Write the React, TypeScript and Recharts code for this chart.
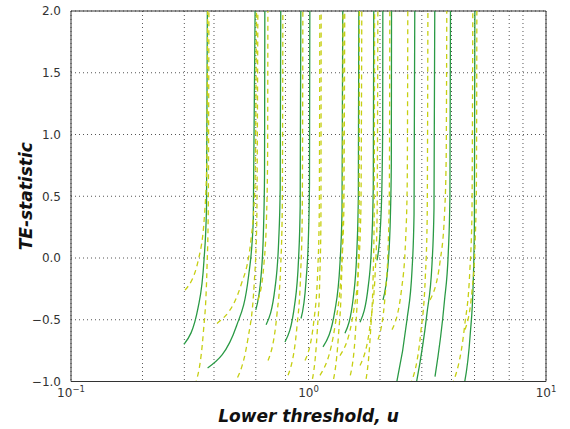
import { LineChart, Line, XAxis, YAxis, CartesianGrid, ReferenceLine, Label } from 'recharts';

// TE-statistic vs lower threshold u.
// Each run is one branch of the curve: starts low, climbs to the asymptote.
const greenRuns: [number, number][][] = [
  [[0.299, -0.70], [0.343, -0.40], [0.363, -0.02], [0.372, 0.40], [0.376, 2.5]],
  [[0.376, -0.89], [0.4975, -0.55], [0.559, -0.15], [0.5855, 0.30], [0.599, 2.5]],
  [[0.600, -0.42], [0.633, -0.12], [0.647, 0.26], [0.653, 0.68], [0.656, 2.8]],
  [[0.663, -0.54], [0.723, -0.24], [0.749, 0.14], [0.760, 0.56], [0.766, 2.7]],
  [[0.796, -0.68], [0.874, -0.38], [0.9085, 0.0], [0.9226, 0.42], [0.930, 2.5]],
  [[0.930, -0.49], [0.976, -0.19], [1.0, 0.19], [1.0097, 0.61], [1.0146, 2.7]],
  [[1.151, -0.72], [1.293, -0.42], [1.357, -0.04], [1.384, 0.38], [1.397, 2.5]],
  [[1.424, -0.61], [1.546, -0.31], [1.599, 0.07], [1.621, 0.49], [1.632, 2.6]],
  [[1.648, -0.52], [1.787, -0.22], [1.849, 0.16], [1.874, 0.58], [1.887, 2.7]],
  [[1.943, -0.02], [2.012, 0.28], [2.041, 0.66], [2.053, 1.08], [2.059, 3.2]],
  [[2.059, -0.34], [2.165, -0.04], [2.212, 0.34], [2.232, 0.76], [2.240, 2.9]],
  [[2.313, -1.07], [2.598, -0.50], [2.728, -0.10], [2.782, 0.35], [2.808, 2.5]],
  [[2.808, -1.07], [3.153, -0.45], [3.311, -0.05], [3.376, 0.40], [3.409, 2.5]],
  [[3.409, -0.96], [3.735, -0.35], [3.879, 0.05], [3.940, 0.50], [3.969, 2.6]],
  [[4.472, -1.07], [4.796, -0.62], [4.938, -0.20], [4.995, 0.30], [5.024, 2.5]],
];

const yellowRuns: [number, number][][] = [
  [[0.302, -0.26], [0.3452, 0.0], [0.3649, 0.35], [0.3733, 0.80], [0.3774, 3.0]],
  [[0.3327, -1.03], [0.3609, -0.60], [0.3735, -0.10], [0.3785, 0.40], [0.3812, 2.5]],
  [[0.4118, -0.53], [0.5196, -0.22], [0.5727, 0.15], [0.5953, 0.60], [0.6072, 2.8]],
  [[0.481, -1.03], [0.5563, -0.65], [0.591, -0.20], [0.6057, 0.30], [0.6131, 2.5]],
  [[0.6131, -0.34], [0.6497, -0.04], [0.6658, 0.34], [0.6723, 0.76], [0.6755, 2.9]],
  [[0.6755, -0.83], [0.737, -0.45], [0.7643, -0.05], [0.7754, 0.40], [0.781, 2.6]],
  [[0.820, -0.95], [0.8947, -0.55], [0.9278, -0.10], [0.9412, 0.35], [0.948, 2.6]],
  [[0.9667, -0.83], [1.0548, -0.50], [1.0937, -0.10], [1.1098, 0.35], [1.1178, 2.6]],
  [[1.02, -1.05], [1.088, -0.60], [1.116, -0.15], [1.128, 0.30], [1.131, 2.5]],
  [[1.1178, -0.95], [1.293, -0.55], [1.374, -0.10], [1.4077, 0.35], [1.424, 2.6]],
  [[1.25, -1.05], [1.338, -0.62], [1.376, -0.20], [1.392, 0.25], [1.40, 2.5]],
  [[1.357, -0.79], [1.543, -0.45], [1.627, -0.05], [1.662, 0.40], [1.680, 2.6]],
  [[1.50, -0.95], [1.582, -0.55], [1.618, -0.10], [1.633, 0.35], [1.64, 2.6]],
  [[1.648, -0.87], [1.829, -0.50], [1.911, -0.10], [1.945, 0.35], [1.962, 2.6]],
  [[1.72, -1.05], [1.824, -0.60], [1.871, -0.15], [1.889, 0.30], [1.90, 2.5]],
  [[1.962, -0.66], [2.103, -0.30], [2.165, 0.10], [2.190, 0.55], [2.203, 2.7]],
  [[2.247, -0.58], [2.466, -0.25], [2.564, 0.15], [2.604, 0.60], [2.624, 2.8]],
  [[2.676, -1.03], [2.971, -0.60], [3.104, -0.15], [3.159, 0.30], [3.187, 2.5]],
  [[3.248, -0.34], [3.586, -0.02], [3.737, 0.35], [3.799, 0.80], [3.831, 2.9]],
  [[4.019, -1.03], [4.543, -0.55], [4.779, -0.10], [4.877, 0.35], [4.927, 2.6]],
  [[4.560, -0.58], [4.890, -0.25], [5.035, 0.15], [5.093, 0.60], [5.123, 2.8]],
];

const xTicks = [0.1, 0.2, 0.3, 0.4, 0.5, 0.6, 0.7, 0.8, 0.9, 1, 2, 3, 4, 5, 6, 7, 8, 9, 10];
const xMajor = [0.1, 1, 10];
const xMajorExp = ['\u22121', '0', '1'];
const yTicks = [-1, -0.5, 0, 0.5, 1, 1.5, 2];

const FONT = '"DejaVu Sans", sans-serif';
const GREEN = '#2a9a45';
const YELLOW = '#c6cf12';
const FRAME = '#333';

function XTick({ x, y, payload }: any) {
  const i = xMajor.indexOf(payload.value);
  if (i < 0) return <g />;
  return (
    <text x={x} y={y + 7} textAnchor="middle" fontSize={12} fill="#333" fontFamily={FONT}>
      10<tspan dy={-5} fontSize={8.5}>{xMajorExp[i]}</tspan>
    </text>
  );
}

const fmtY = (v: number) => (v < 0 ? '\u2212' : '') + Math.abs(v).toFixed(1);

const toRows = (run: [number, number][]) => run.map(([u, v]) => ({ u, v }));

export default function App() {
  return (
    <div style={{ width: 570, height: 429, background: '#fff' }}>
      <style>{'body{margin:0}'}</style>
      <LineChart width={570} height={429} margin={{ top: 11, right: 24, bottom: 0, left: 0 }}>
        <CartesianGrid stroke="#555" strokeDasharray="1 3" />
        <XAxis
          dataKey="u"
          type="number"
          scale="log"
          domain={[0.1, 10]}
          allowDataOverflow
          ticks={xTicks}
          tick={<XTick />}
          tickLine={false}
          axisLine={{ stroke: FRAME }}
          height={47.5}
        >
          <Label
            value="Lower threshold, u"
            position="insideBottom"
            offset={7}
            style={{ fontFamily: FONT, fontSize: 17, fontWeight: 'bold', fontStyle: 'italic', fill: '#111' }}
          />
        </XAxis>
        <YAxis
          type="number"
          domain={[-1, 2]}
          allowDataOverflow
          ticks={yTicks}
          tickFormatter={fmtY}
          tick={{ fontFamily: FONT, fontSize: 12, fill: '#333' }}
          tickLine={false}
          tickMargin={4}
          axisLine={{ stroke: FRAME }}
          width={71}
        >
          <Label
            content={({ viewBox }: any) => {
              const cx = viewBox.x + 26;
              const cy = viewBox.y + viewBox.height / 2;
              return (
                <text
                  x={cx}
                  y={cy}
                  transform={`rotate(-90 ${cx} ${cy})`}
                  textAnchor="middle"
                  dominantBaseline="central"
                  fontFamily={FONT}
                  fontSize={17}
                  fontWeight="bold"
                  fontStyle="italic"
                  fill="#111"
                >
                  TE-statistic
                </text>
              );
            }}
          />
        </YAxis>
        <ReferenceLine y={2} stroke={FRAME} />
        <ReferenceLine x={10} stroke={FRAME} />
        {greenRuns.map((run, i) => (
          <Line
            key={`g${i}`}
            data={toRows(run)}
            dataKey="v"
            type="monotone"
            stroke={GREEN}
            strokeWidth={1.3}
            dot={false}
            isAnimationActive={false}
          />
        ))}
        {yellowRuns.map((run, i) => (
          <Line
            key={`y${i}`}
            data={toRows(run)}
            dataKey="v"
            type="monotone"
            stroke={YELLOW}
            strokeWidth={1.3}
            strokeDasharray="5 4"
            dot={false}
            isAnimationActive={false}
          />
        ))}
      </LineChart>
    </div>
  );
}
